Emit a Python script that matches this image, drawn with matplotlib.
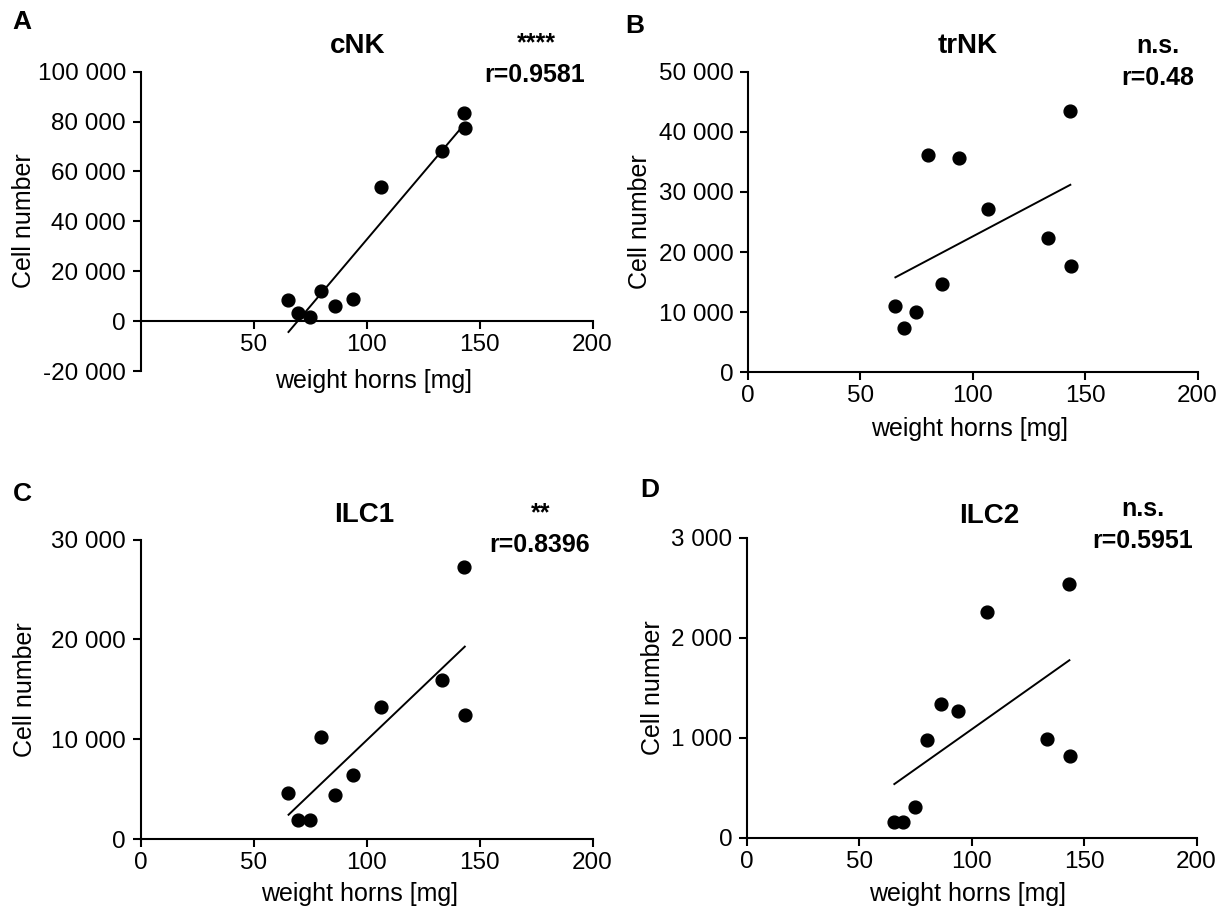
import numpy as np
import matplotlib
matplotlib.use("Agg")
import matplotlib.pyplot as plt
from matplotlib.ticker import FuncFormatter

plt.rcParams['font.family'] = ['Liberation Sans', 'DejaVu Sans']

# ---- data ----
weight_mg = [65.2, 69.5, 74.9, 80.0, 86.1, 94.0, 106.6, 133.6, 143.3, 143.8]
cnk  = [8400, 3070, 1600, 12000, 6000, 8670, 53700, 68400, 83600, 77300]
trnk = [10960, 7360, 10020, 36100, 14670, 35700, 27190, 22370, 43400, 17660]
ilc1 = [4610, 1870, 1870, 10220, 4380, 6380, 13230, 15940, 27230, 12400]
ilc2 = [160, 160, 310, 977, 1343, 1267, 2253, 987, 2537, 817]

titles = ["cNK", "trNK", "ILC1", "ILC2"]
letters = ["A", "B", "C", "D"]
signif = ["****", "n.s.", "**", "n.s."]
r_text = ["r=0.9581", "r=0.48", "r=0.8396", "r=0.5951"]
y_ticks = [[-20000, 0, 20000, 40000, 60000, 80000, 100000],
           [0, 10000, 20000, 30000, 40000, 50000],
           [0, 10000, 20000, 30000],
           [0, 1000, 2000, 3000]]
x_ticks_a = [50, 100, 150, 200]
x_ticks = [0, 50, 100, 150, 200]

W, H = 1228, 910
fig = plt.figure(figsize=(W / 100, H / 100), dpi=100)

def fx(px):
    return px / W

def fy(py):
    return 1 - py / H

# axes boxes in pixel coords: (x0, x200, ytop, ybottom)
boxes = [(140.5, 592.5, 71.7, 371.0),
         (748, 1197.5, 71.7, 372.3),
         (140.5, 592.5, 539.5, 839.0),
         (747, 1196.5, 537.7, 838.0)]

series = [cnk, trnk, ilc1, ilc2]
fmt = FuncFormatter(lambda v, p: f"{v:,.0f}".replace(",", " "))

# text positions (pixels; y = baseline)
title_pos = [(358, 53), (968, 53), (364, 522), (989, 523)]
sig_pos = [(536, 50), (1158, 53), (541, 520), (1143, 516)]
r_pos = [(535, 82), (1158, 85), (540, 552), (1143, 548)]
letter_pos = [(22, 29), (635, 33), (22, 501), (650, 497)]
ylabel_pos = [(24, 221), (640, 222), (25, 690), (653, 688)]
xlabel_pos = [(374, 388), (970, 436), (360, 901), (968, 901)]

for i in range(4):
    x0, x1, yt, yb = boxes[i]
    ax = fig.add_axes([fx(x0), fy(yb), fx(x1 - x0), (yb - yt) / H])
    x = np.array(weight_mg)
    y = np.array(series[i])
    ax.scatter(x, y, s=85, color='black', linewidths=1.0, zorder=3, clip_on=False)
    k, b = np.polyfit(x, y, 1)
    xs = np.array([x.min(), x.max()])
    ax.plot(xs, k * xs + b, color='black', lw=1.4, zorder=2, solid_capstyle='butt')
    ax.set_xlim(0, 200)
    ax.set_ylim(y_ticks[i][0], y_ticks[i][-1])
    ax.set_yticks(y_ticks[i])
    ax.yaxis.set_major_formatter(fmt)
    for s in ['top', 'right']:
        ax.spines[s].set_visible(False)
    for s in ['left', 'bottom']:
        ax.spines[s].set_linewidth(1.5)
    if i == 0:
        ax.spines['bottom'].set_position(('data', 0))
        ax.set_xticks(x_ticks_a)
    else:
        ax.set_xticks(x_ticks)
    ax.tick_params(axis='both', width=1.5, length=6, labelsize=17.5)
    ax.tick_params(axis='y', pad=4.5)
    ax.tick_params(axis='x', pad=3.5)
    ax.patch.set_alpha(0)
    fig.text(fx(title_pos[i][0]), fy(title_pos[i][1]), titles[i], fontsize=20,
             fontweight='bold', ha='center', va='baseline')
    fig.text(fx(sig_pos[i][0]), fy(sig_pos[i][1]), signif[i], fontsize=18,
             fontweight='bold', ha='center', va='baseline')
    fig.text(fx(r_pos[i][0]), fy(r_pos[i][1]), r_text[i], fontsize=18,
             fontweight='bold', ha='center', va='baseline')
    fig.text(fx(letter_pos[i][0]), fy(letter_pos[i][1]), letters[i], fontsize=19,
             fontweight='bold', ha='center', va='baseline')
    fig.text(fx(ylabel_pos[i][0]), fy(ylabel_pos[i][1]), "Cell number", fontsize=18,
             rotation=90, ha='center', va='center')
    fig.text(fx(xlabel_pos[i][0]), fy(xlabel_pos[i][1]), "weight horns [mg]", fontsize=18,
             ha='center', va='baseline')

fig.savefig("out.png", dpi=100)
